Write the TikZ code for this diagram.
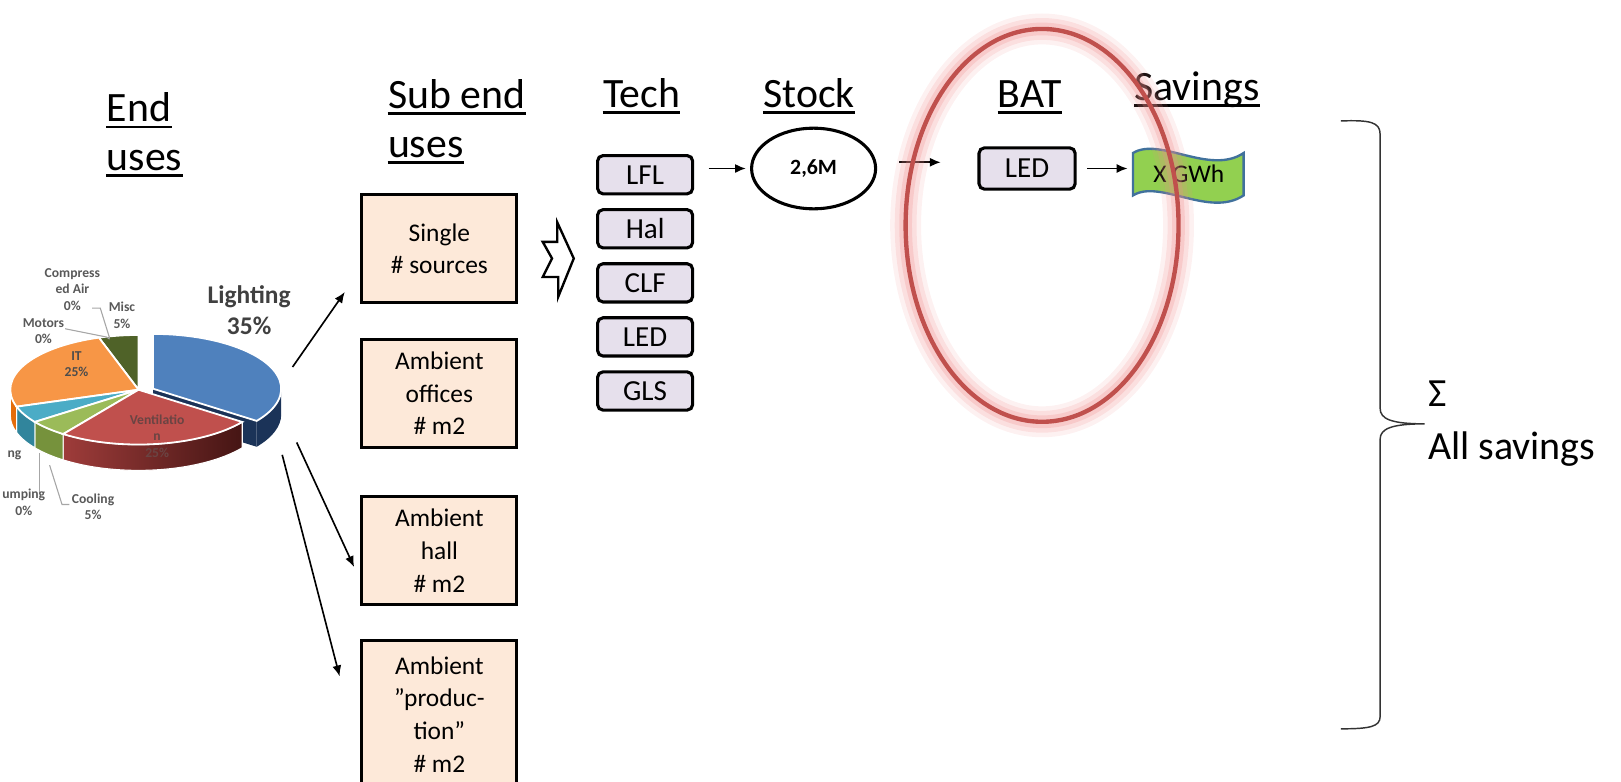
\documentclass[tikz,border=0pt]{standalone}
\usepackage{fontspec}
\setmainfont{Carlito}
\usetikzlibrary{arrows.meta,shapes.geometric,calc}
\definecolor{peach}{HTML}{FDE9D9}
\definecolor{lav}{HTML}{E6E0EC}
\definecolor{liteblue}{HTML}{4F81BD}
\definecolor{litedark}{HTML}{1B3358}
\definecolor{ventred}{HTML}{C0504D}
\definecolor{ventL}{HTML}{9E3C3A}
\definecolor{ventR}{HTML}{451514}
\definecolor{coolg}{HTML}{9BBB59}
\definecolor{coolgd}{HTML}{76923C}
\definecolor{heatc}{HTML}{4BACC6}
\definecolor{heatcd}{HTML}{31859C}
\definecolor{itor}{HTML}{F79646}
\definecolor{itord}{HTML}{E46C0A}
\definecolor{miscg}{HTML}{4F6228}
\definecolor{pietext}{HTML}{595959}
\definecolor{leadgray}{HTML}{A6A6A6}
\definecolor{wavegreen}{HTML}{92D050}
\definecolor{waveblue}{HTML}{41719C}
\definecolor{ovalred}{HTML}{C0504D}
\definecolor{glowred}{HTML}{F08C8C}
\tikzset{
  head/.style={font=\fontsize{23}{26.6}\selectfont, inner sep=0pt, anchor=base west},
  subuse/.style={draw, line width=1.7pt, fill=peach, minimum width=3cm, minimum height=2.1cm,
    align=center, font=\fontsize{14}{18}\selectfont, inner sep=2pt},
  techbox/.style={draw, line width=1.7pt, fill=lav, rounded corners=3pt, minimum width=1.84cm,
    minimum height=0.74cm, font=\fontsize{16}{18}\selectfont, inner sep=0pt},
  arr/.style={line width=0.9pt, -{Latex[length=6pt,width=5pt]}},
  pielbl/.style={font=\fontsize{7.5}{9}\selectfont\bfseries, text=pietext, align=center, inner sep=0pt},
  leader/.style={draw=leadgray, line width=0.6pt},
}
\begin{document}
\begin{tikzpicture}[x=0.02cm,y=-0.02cm]
  \useasboundingbox (0,0) rectangle (1568,756);
  % headings
  \node[head] (hEnd) at (103,118) {End};
  \node[head] (hEndB) at (103,165) {uses};
  \node[head] (hSub) at (375,105) {Sub end};
  \node[head] (hSubB) at (375,152) {uses};
  \node[head] (hTech) at (583,104) {Tech};
  \node[head] (hStock) at (738,104) {Stock};
  \node[head] (hBAT) at (965,104) {BAT};
  \node[head] (hSav) at (1097,97) {Savings};
  \foreach \n in {hEnd,hEndB,hSub,hSubB,hTech,hStock,hBAT,hSav}
    \draw[line width=1.4pt] ($(\n.base west)+(0,5)$) -- ($(\n.base east)+(0,5)$);

  % end uses pie
  \begin{scope}[shift={(134,377)},yscale=-1]
    \def\prx{124}\def\pry{53}\def\pdh{25}
    \begin{scope}[shift={(14,1)}]
      \fill[litedark] (0,0) -- (-36:{\prx} and {\pry}) -- ++(0,-\pdh) -- (0,-\pdh) -- cycle;
      \fill[litedark] (0:{\prx} and {\pry}) arc[start angle=0,end angle=-36,x radius=\prx,y radius=\pry]
        -- ++(0,-\pdh) arc[start angle=-36,end angle=0,x radius=\prx,y radius=\pry] -- cycle;
    \end{scope}
    \shade[left color=ventL,right color=ventR,draw=white,line width=0.6pt] (-36:{\prx} and {\pry})
      arc[start angle=-36,end angle=-126,x radius=\prx,y radius=\pry]
      -- ++(0,-\pdh) arc[start angle=-126,end angle=-36,x radius=\prx,y radius=\pry] -- cycle;
    \foreach \a/\b/\c in {-126/-144/coolgd,-144/-162/heatcd,-162/-180/itord}
      \filldraw[fill=\c,draw=white,line width=0.6pt] (\a:{\prx} and {\pry})
        arc[start angle=\a,end angle=\b,x radius=\prx,y radius=\pry]
        -- ++(0,-\pdh) arc[start angle=\b,end angle=\a,x radius=\prx,y radius=\pry] -- cycle;
    \foreach \a/\b/\c in {90/108/miscg,108/198/itor,198/216/heatc,216/234/coolg,234/324/ventred}
      \filldraw[fill=\c,draw=white,line width=1pt] (0,0) -- (\a:{\prx} and {\pry})
        arc[start angle=\a,end angle=\b,x radius=\prx,y radius=\pry] -- cycle;
    \filldraw[fill=liteblue,draw=white,line width=1pt,shift={(14,1)}] (0,0) -- (-36:{\prx} and {\pry})
      arc[start angle=-36,end angle=90,x radius=\prx,y radius=\pry] -- cycle;
  \end{scope}
  \draw[leader] (89,298) -- (97,298) -- (106,327);
  \draw[leader] (63,318) -- (103,326) -- (106,328);
  \draw[leader] (38,438) -- (38,477);
  \draw[leader] (48,450) -- (60,488) -- (67,488);
  \node[pielbl] (lComp) at (70,280) {Compress\\ed Air\\0\%};
  \node[pielbl] (lMisc) at (118,305) {Misc\\5\%};
  \node[pielbl] (lMot) at (42,320) {Motors\\0\%};
  \node[pielbl, text=black!70] (lIT) at (74,352) {IT\\25\%};
  \node[pielbl, text=ventR!80] (lVent) at (152,422) {Ventilatio\\n\\25\%};
  \node[pielbl, anchor=east] (lHeat) at (21,440) {ng};
  \node[pielbl] (lPump) at (23,486) {umping\\0\%};
  \node[pielbl] (lCool) at (90,490) {Cooling\\5\%};
  \node[font=\fontsize{14}{17}\selectfont\bfseries, text=black!75, align=center, inner sep=0pt] (lLight) at (241,300) {Lighting\\35\%};

  % sub end uses
  \node[subuse] (single) at (425,240.5) {Single\\\# sources};
  \node[subuse] (offices) at (425,380.5) {Ambient\\offices\\\# m2};
  \node[subuse] (hall) at (425,532.5) {Ambient\\hall\\\# m2};
  \node[subuse, minimum height=2.85cm] (prod) at (425,691) {Ambient\\”produc-\\tion”\\\# m2};
  \coordinate (pieA) at (283,355);
  \coordinate (pieB) at (287,428);
  \coordinate (pieC) at (273,440);
  \draw[arr] (pieA) -- ($(single.south west)+(-15,-12)$);
  \draw[arr] (pieB) -- ($(hall.west)+(-6,16)$);
  \draw[arr] (pieC) -- ($(prod.north west)+(-20,36)$);

  \draw[line width=1.3pt, fill=white] (539,215) -- (555,250) -- (540,287) -- (540,268) -- (525,268)
    -- (534,250) -- (525,234) -- (539,234) -- cycle;

  % technologies
  \foreach \t [count=\i] in {LFL,Hal,CLF,LED,GLS}
    \node[techbox] (tech\i) at (624,{169+52.3*(\i-1)}) {\t};

  \node[draw, ellipse, line width=1.7pt, minimum width=2.4cm, minimum height=1.56cm, inner sep=0pt,
    font=\fontsize{12}{14}\selectfont\bfseries] (stock) at (787,163) {2,6M};
  \draw[arr, shorten <=0.28cm, shorten >=0.08cm] (tech1.east |- stock.west) -- (stock.west);
  \coordinate (batIn0) at (870,157);
  \coordinate (batIn1) at (910,157);
  \draw[arr] (batIn0) -- (batIn1);

  \node[techbox, minimum width=1.86cm, minimum height=0.8cm] (bat) at (993.5,163) {LED};

  \draw[draw=waveblue, line width=1.3pt, fill=wavegreen] (1096,148) .. controls (1122,132) and (1170,170) .. (1203,148)
    -- (1203,189) .. controls (1170,211) and (1122,173) .. (1096,189) -- cycle;
  \node[minimum width=2.16cm, minimum height=0.84cm, inner sep=0pt, font=\fontsize{14}{16}\selectfont] (gwh) at (1150,168) {X GWh};
  \draw[arr, shorten <=0.2cm, shorten >=0.1cm] (bat.east) -- (bat.east -| gwh.west);

  % sum
  \draw[line width=0.8pt, black!80] (1297,117) .. controls (1325,116) and (1335,118) .. (1335,130) -- (1335,395)
    .. controls (1335,405) and (1345,410) .. (1378,410) .. controls (1345,410) and (1335,415) .. (1335,425)
    -- (1335,693) .. controls (1335,703) and (1325,705) .. (1297,705);
  \node[font=\fontsize{22}{29}\selectfont, align=left, anchor=north west, inner sep=0pt] (allsav) at (1381,368) {Σ\\All savings};

  % BAT highlight
  \foreach \w/\o in {17/0.12,12/0.18,7/0.25}
    \draw[glowred, line width=\w pt, opacity=\o] (1008,218) ellipse[x radius=132, y radius=190];
  \draw[ovalred, line width=2.4pt] (1008,218) ellipse[x radius=132, y radius=190];
\end{tikzpicture}
\end{document}
